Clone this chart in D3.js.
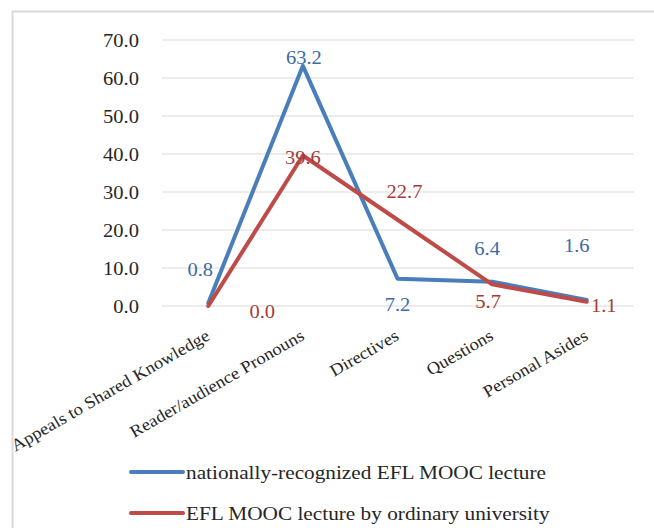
<!DOCTYPE html>
<html>
<head>
<meta charset="utf-8">
<script src="https://cdn.jsdelivr.net/npm/d3@7/dist/d3.min.js"></script>
<style>
  html, body { margin: 0; padding: 0; background: #fff; }
  svg { display: block; }
</style>
</head>
<body>
<svg id="chart" width="654" height="528"></svg>
<script>
// Interactive metadiscourse markers per category
const categories = [
  "Appeals to Shared Knowledge",
  "Reader/audience Pronouns",
  "Directives",
  "Questions",
  "Personal Asides"
];
const nationalValues = [0.8, 63.2, 7.2, 6.4, 1.6];
const ordinaryValues = [0.0, 39.6, 22.7, 5.7, 1.1];
const seriesNames = [
  "nationally-recognized EFL MOOC lecture",
  "EFL MOOC lecture by ordinary university"
];
const yTicks = [0, 10, 20, 30, 40, 50, 60, 70];

// Label placement relative to each point (layout only)
const nationalLabelOffsets = [[-8, -33], [1, -8], [0, 26], [-5, -33], [-10, -54]];
const ordinaryLabelOffsets = [[54, 6], [0, 2], [7, -28], [-4, 17], [17, 4]];

const colors = { national: "#4a7ebb", ordinary: "#be4b48" };
const labelColors = { national: "#3c6aa5", ordinary: "#a33b39" };
const textColor = "#262626";
const fontFamily = '"Liberation Serif"';
const stretch = 1.14;       // glyphs are slightly wide
const legendStretch = 1.12;
const categoryStretch = 1.09;

function serif(sel) {
  return sel.attr("font-family", "Liberation Serif").style("font-family", fontFamily);
}

const svg = d3.select("#chart");

// outer frame
svg.append("rect")
  .attr("x", 12.5).attr("y", 11.5)
  .attr("width", 660).attr("height", 540)
  .attr("fill", "none").attr("stroke", "#d9d9d9").attr("stroke-width", 2);

const x = d3.scalePoint().domain(categories).range([161, 634]).padding(0.5);
const y = d3.scaleLinear().domain([0, 70]).range([306, 40]);

// gridlines
svg.append("g")
  .selectAll("line")
  .data(yTicks)
  .join("line")
  .attr("x1", 162).attr("x2", 634)
  .attr("y1", d => y(d)).attr("y2", d => y(d))
  .attr("stroke", "#d9d9d9").attr("stroke-width", 1);

// y axis labels
const yAxis = d3.axisLeft(y).tickValues(yTicks).tickFormat(d3.format(".1f")).tickSize(0).tickPadding(0);
const yg = svg.append("g").attr("transform", "translate(139,0)").call(yAxis);
yg.select(".domain").remove();
serif(yg);
serif(yg.selectAll(".tick text"))
  .attr("x", 0)
  .attr("font-size", 18)
  .attr("fill", textColor)
  .attr("dy", "0.35em")
  .attr("transform", `scale(${stretch},1)`);

// category labels, rotated
const xAxis = d3.axisBottom(x).tickSize(0).tickPadding(0);
const xg = svg.append("g").attr("transform", "translate(0,306)").call(xAxis);
xg.select(".domain").remove();
serif(xg);
serif(xg.selectAll(".tick text"))
  .attr("font-size", 17)
  .attr("fill", textColor)
  .attr("text-anchor", "end")
  .attr("dy", null)
  .attr("y", 0)
  .attr("transform", `translate(2,33) rotate(-30) scale(${categoryStretch},1)`);

// lines
const line = d3.line()
  .x((d, i) => x(categories[i]))
  .y(d => y(d));

const series = [
  { key: "national", values: nationalValues, offsets: nationalLabelOffsets },
  { key: "ordinary", values: ordinaryValues, offsets: ordinaryLabelOffsets }
];

series.forEach(s => {
  svg.append("path")
    .datum(s.values)
    .attr("d", line)
    .attr("fill", "none")
    .attr("stroke", colors[s.key])
    .attr("stroke-width", 4)
    .attr("stroke-linejoin", "round")
    .attr("stroke-linecap", "round");
});

// data labels
series.forEach(s => {
  serif(svg.append("g")
    .selectAll("text")
    .data(s.values)
    .join("text"))
    .attr("transform", (d, i) =>
      `translate(${x(categories[i]) + s.offsets[i][0]},${y(d) + s.offsets[i][1]}) scale(${stretch},1)`)
    .attr("text-anchor", "middle")
    .attr("dy", "0.35em")
    .attr("font-size", 18)
    .attr("fill", labelColors[s.key])
    .text(d => d3.format(".1f")(d));
});

// legend
const legend = svg.append("g");
seriesNames.forEach((name, i) => {
  const key = series[i].key;
  const ly = [472, 513][i];
  legend.append("line")
    .attr("x1", 131).attr("x2", 183)
    .attr("y1", ly).attr("y2", ly)
    .attr("stroke", colors[key]).attr("stroke-width", 4)
    .attr("stroke-linecap", "round");
  serif(legend.append("text"))
    .attr("transform", `translate(186,${ly}) scale(${legendStretch},1)`)
    .attr("dy", "0.35em")
    .attr("font-size", 19)
    .attr("fill", textColor)
    .text(name);
});
</script>
</body>
</html>
